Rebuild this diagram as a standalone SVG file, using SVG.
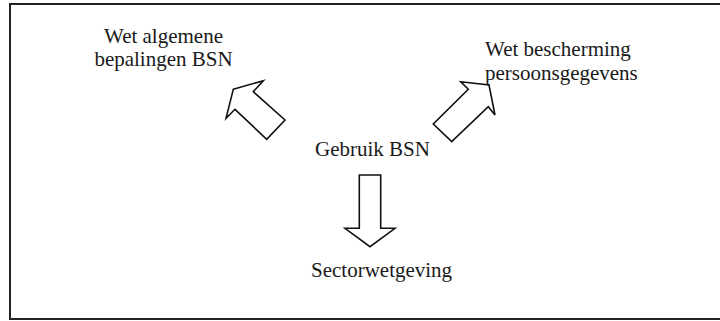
<svg xmlns="http://www.w3.org/2000/svg" width="720" height="321" viewBox="0 0 720 321">
<style>
.t{font-family:"Liberation Serif","Times New Roman",serif;font-size:21px;fill:#1a1a1a}
.a{fill:#fff;stroke:#111;stroke-width:1.6;stroke-linejoin:miter}
</style>
<rect x="0" y="0" width="720" height="321" fill="#fff"/>
<rect x="10" y="4" width="720" height="315" fill="none" stroke="#222" stroke-width="2"/>
<g id="center"><text class="t" x="315" y="156">Gebruik BSN</text></g>
<g id="wab"><text class="t" x="163.5" y="43" text-anchor="middle">Wet algemene</text><text class="t" x="163.5" y="66" text-anchor="middle">bepalingen BSN</text></g>
<g id="wbp"><text class="t" x="485" y="56">Wet bescherming</text><text class="t" x="485" y="80">persoonsgegevens</text></g>
<g id="sector"><text class="t" x="311" y="277">Sectorwetgeving</text></g>
<g id="connectors">
<polygon class="a" points="233.3,89.3 263.3,80.7 253.3,91.7 285,120 266.7,139.3 235,109.3 226,118.3"/>
<polygon class="a" points="489,85 495,115 488.3,106.7 451.7,141.7 433.3,124 468.3,89.3 460.7,81.7"/>
<polygon class="a" points="359.3,175 380.7,175 380.7,228.3 395,228.3 370,246.7 345,228.3 359.3,228.3"/>
</g>
</svg>
